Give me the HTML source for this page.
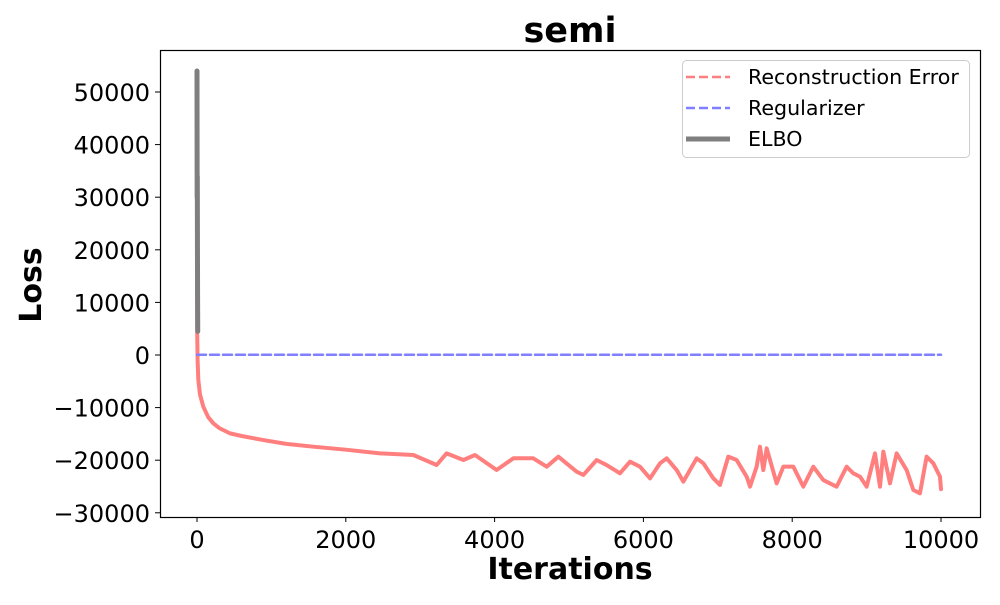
<!DOCTYPE html>
<html><head><meta charset="utf-8"><style>
body{margin:0;background:#fff;}
svg text{font-family:"DejaVu Sans","Liberation Sans",sans-serif;}
</style></head><body>
<svg id="chart" width="1000" height="600" xmlns="http://www.w3.org/2000/svg">
<text x="570" y="42" text-anchor="middle" font-size="35" font-weight="bold">semi</text>
<g id="marks"></g>
<rect x="160.5" y="50.5" width="820" height="467" fill="none" stroke="#000" stroke-width="1.2"/>
<g id="ticks"></g>
<text x="570" y="579" text-anchor="middle" font-size="30" font-weight="bold">Iterations</text>
<text transform="translate(41,285) rotate(-90)" text-anchor="middle" font-size="30" font-weight="bold">Loss</text>
<g>
<rect x="682.5" y="60.5" width="287" height="97" rx="4" fill="#fff" fill-opacity="0.8" stroke="#ccc"/>
<line x1="686" y1="77" x2="730" y2="77" stroke="#ff7f7f" stroke-width="2.5" stroke-dasharray="9,4"/>
<text x="748" y="84" font-size="20.6">Reconstruction Error</text>
<line x1="686" y1="108" x2="730" y2="108" stroke="#7f7fff" stroke-width="2.5" stroke-dasharray="9,4"/>
<text x="748" y="115" font-size="20.6">Regularizer</text>
<line x1="686" y1="139" x2="730" y2="139" stroke="#7f7f7f" stroke-width="5"/>
<text x="748" y="146" font-size="20.6">ELBO</text>
</g>
</svg>
<script>
const xTicks=[0,2000,4000,6000,8000,10000];
const yTicks=[-30000,-20000,-10000,0,10000,20000,30000,40000,50000];
const reconIters=[0,3,8,18,40,85,150,219,300,444,600,891,1200,1563,2000,2460,2908,3221,3355,3580,3736,4027,4252,4520,4700,4857,5103,5193,5372,5506,5685,5820,5954,6089,6223,6313,6447,6537,6716,6806,6940,7029,7141,7253,7388,7433,7522,7567,7612,7657,7791,7881,8015,8149,8284,8418,8597,8732,8821,8911,9001,9113,9180,9225,9314,9404,9538,9628,9717,9807,9897,9986,10000];
const reconVals=[14000,4000,-1000,-4750,-7500,-9830,-11800,-12990,-13900,-14900,-15400,-16170,-16900,-17430,-18000,-18700,-19010,-20910,-18700,-19960,-19010,-21870,-19640,-19640,-21230,-19330,-22180,-22800,-19960,-20920,-22500,-20280,-21230,-23450,-20590,-19640,-21870,-24080,-19640,-20590,-23450,-24710,-19320,-19960,-23130,-25030,-21230,-17430,-21870,-17740,-24400,-21230,-21230,-25030,-21230,-23770,-25030,-21230,-22500,-23130,-25030,-18700,-25030,-18380,-24400,-18700,-21870,-25660,-26300,-19320,-20590,-23130,-25500];
const regIters=[0,10000];
const regVals=[50,50];
const elboIters=[0,2,4,6,8,10];
const elboVals=[54000,30000,34000,20000,10000,4500];
const X=v=>197+v*0.0744;
const Y=v=>355-v*0.00526;
const NS="http://www.w3.org/2000/svg";
const marks=document.getElementById('marks'),ticks=document.getElementById('ticks');
function line(iters,vals,stroke,w,dash,name){
  const p=document.createElementNS(NS,'polyline');
  p.setAttribute('points',iters.map((t,i)=>X(t).toFixed(2)+','+Y(vals[i]).toFixed(2)).join(' '));
  p.setAttribute('fill','none');p.setAttribute('stroke',stroke);p.setAttribute('stroke-width',w);
  p.setAttribute('stroke-linejoin','round');p.setAttribute('stroke-linecap','round');
  if(dash)p.setAttribute('stroke-dasharray',dash);
  
  
  marks.appendChild(p);
}
line(reconIters,reconVals,'#ff7f7f',4,null,'reconstruction-error-line');
line(regIters,regVals,'#7f7fff',2.5,'9,4','regularizer-line');
line(elboIters,elboVals,'#7f7f7f',5,null,'elbo-line');
xTicks.forEach(t=>{
  const l=document.createElementNS(NS,'line');
  l.setAttribute('x1',X(t));l.setAttribute('x2',X(t));l.setAttribute('y1',517);l.setAttribute('y2',522);l.setAttribute('stroke','#000');
  
  
  ticks.appendChild(l);
  const tx=document.createElementNS(NS,'text');
  tx.setAttribute('x',X(t));tx.setAttribute('y',548);tx.setAttribute('text-anchor','middle');tx.setAttribute('font-size','24');
  tx.textContent=String(t);
  
  
  ticks.appendChild(tx);
});
yTicks.forEach(t=>{
  const l=document.createElementNS(NS,'line');
  l.setAttribute('x1',155);l.setAttribute('x2',160);l.setAttribute('y1',Y(t));l.setAttribute('y2',Y(t));l.setAttribute('stroke','#000');
  
  
  ticks.appendChild(l);
  const tx=document.createElementNS(NS,'text');
  tx.setAttribute('x',150);tx.setAttribute('y',Y(t)+9);tx.setAttribute('text-anchor','end');tx.setAttribute('font-size','24');
  tx.textContent=(t<0?'\u2212':'')+Math.abs(t);
  
  
  ticks.appendChild(tx);
});
</script>
</body></html>
